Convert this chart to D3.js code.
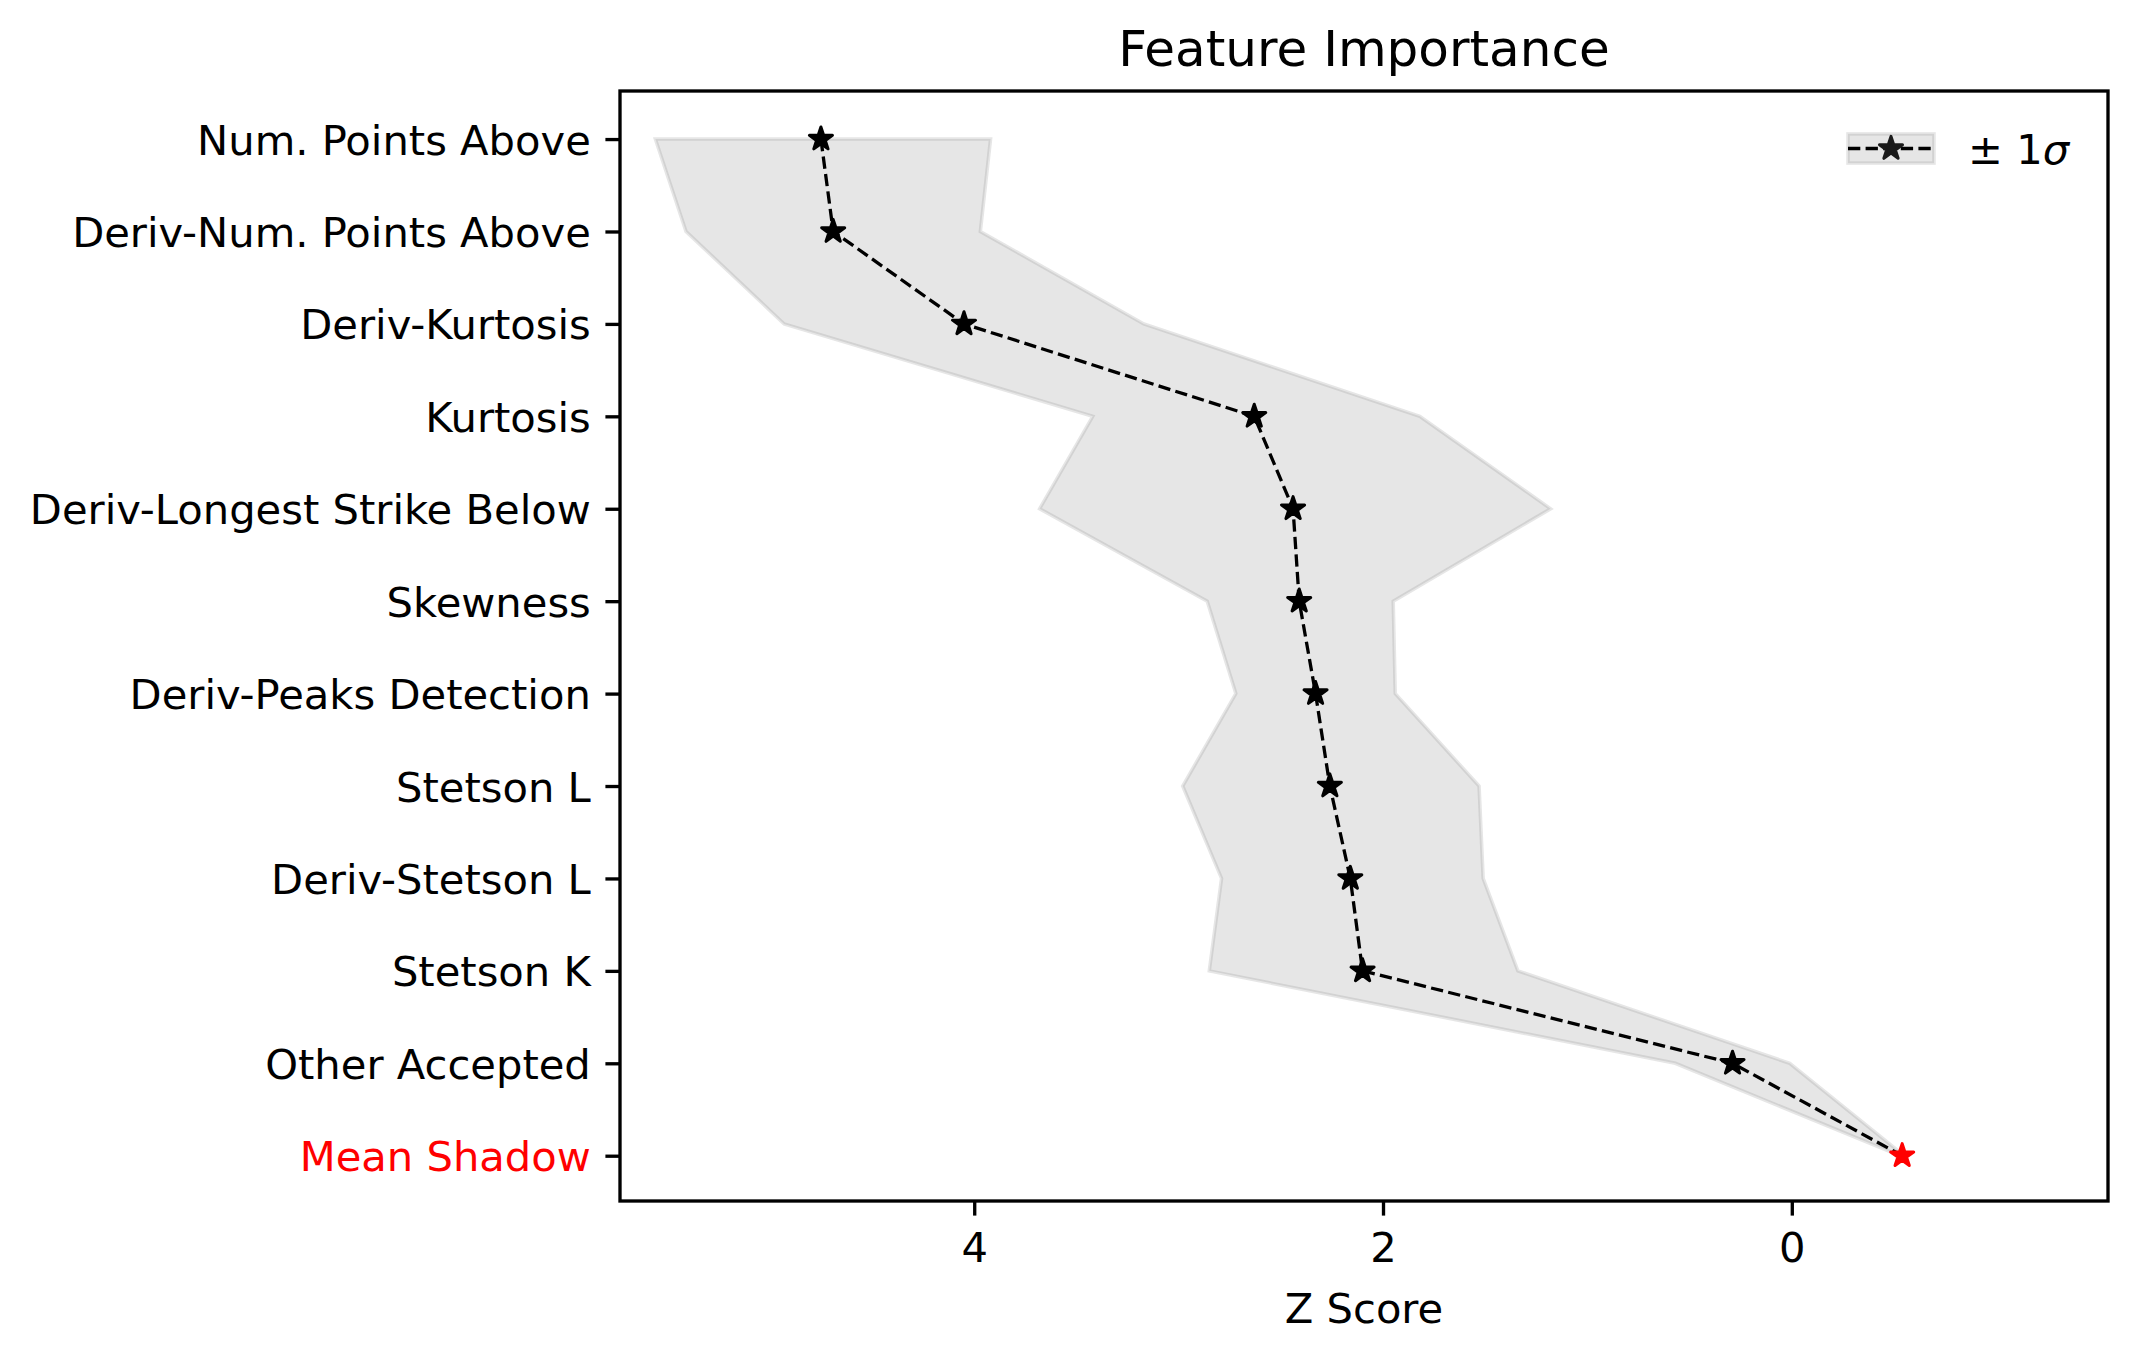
<!DOCTYPE html>
<html><head><meta charset="utf-8">
<script src="https://cdn.jsdelivr.net/npm/d3@7"></script>
<style>body{margin:0;background:#fff}svg{display:block}text{font-family:"DejaVu Sans",sans-serif}</style>
</head><body>
<script>
const features = ["Num. Points Above","Deriv-Num. Points Above","Deriv-Kurtosis","Kurtosis","Deriv-Longest Strike Below","Skewness","Deriv-Peaks Detection","Stetson L","Deriv-Stetson L","Stetson K","Other Accepted","Mean Shadow"];
const meanZ  = [4.75, 4.69, 4.05, 2.63, 2.44, 2.41, 2.33, 2.26, 2.16, 2.10, 0.29, -0.54];
const upperZ = [5.56, 5.41, 4.93, 3.42, 3.68, 2.86, 2.72, 2.98, 2.79, 2.85, 0.57, -0.53];
const lowerZ = [3.92, 3.97, 3.17, 1.82, 1.18, 1.95, 1.94, 1.53, 1.51, 1.34, 0.01, -0.55];
const xTicks = [4, 2, 0];
const xDomain = [5.733, -1.547];

const W = 2137, H = 1361;
const L = 620, R = 2108, T = 91, B = 1201;
const svg = d3.select("body").append("svg").attr("width", W).attr("height", H);

const x = d3.scaleLinear().domain(xDomain).range([L, R]);
const y = d3.scaleLinear().domain([-0.52, features.length - 1 + 0.49]).range([T, B]);
const idx = d3.range(features.length);

const fillC = "rgba(128,128,128,0.2)";
// band
const area = d3.area().y(i => y(i)).x0(i => x(upperZ[i])).x1(i => x(lowerZ[i]));
svg.append("path").attr("d", area(idx)).attr("fill", fillC).attr("stroke", fillC).attr("stroke-width", 3.5);

// dashed line
const line = d3.line().x(i => x(meanZ[i])).y(i => y(i));
svg.append("path").attr("d", line(idx)).attr("fill", "none").attr("stroke", "#000")
  .attr("stroke-width", 3.3).attr("stroke-dasharray", "12.3,5.3");

const star = d3.symbol(d3.symbolStar, 165);
svg.selectAll(".pt").data(idx).join("path")
  .attr("d", star).attr("transform", i => `translate(${x(meanZ[i])},${y(i)})`)
  .attr("fill", i => i === features.length - 1 ? "#ff0000" : "#000")
  .attr("stroke", i => i === features.length - 1 ? "#ff0000" : "#000")
  .attr("stroke-width", 3).attr("stroke-linejoin", "round");

// axes
const fs = 41.67;
const xAxis = d3.axisBottom(x).tickValues(xTicks).tickFormat(d3.format("d")).tickSize(14.6).tickPadding(14.6);
const gx = svg.append("g").attr("transform", `translate(0,${B})`).call(xAxis);
const yAxis = d3.axisLeft(y).tickValues(idx).tickFormat(i => features[i]).tickSize(14.6).tickPadding(14.6);
const gy = svg.append("g").attr("transform", `translate(${L},0)`).call(yAxis);
[gx, gy].forEach(g => {
  g.select(".domain").remove();
  g.selectAll(".tick line").attr("stroke", "#000").attr("stroke-width", 3.33);
  g.selectAll(".tick text").attr("font-size", fs).attr("fill", "#000").attr("font-family", "DejaVu Sans");
});
gx.selectAll(".tick text").attr("dy", null).attr("y", 14.6 + 14.6 + 32);
gy.selectAll(".tick text").attr("dy", "0.36em").attr("fill", i => i === features.length - 1 ? "#ff0000" : "#000");

svg.append("rect").attr("x", L).attr("y", T).attr("width", R - L).attr("height", B - T)
  .attr("fill", "none").attr("stroke", "#000").attr("stroke-width", 3.33);

// title & label
svg.append("text").attr("x", (L + R) / 2).attr("y", 66).attr("text-anchor", "middle")
  .attr("font-size", 50).text("Feature Importance");
svg.append("text").attr("x", (L + R) / 2).attr("y", 1323).attr("text-anchor", "middle")
  .attr("font-size", fs).text("Z Score");

// legend
const lg = svg.append("g");
const hx0 = 1848, hx1 = 1934, hy = 148.5;
lg.append("rect").attr("x", hx0).attr("y", hy - 14.6).attr("width", hx1 - hx0).attr("height", 29.2)
  .attr("fill", fillC).attr("stroke", fillC).attr("stroke-width", 3.5);
lg.append("line").attr("x1", hx0).attr("x2", hx1).attr("y1", hy).attr("y2", hy)
  .attr("stroke", "#000").attr("stroke-width", 3.3).attr("stroke-dasharray", "12.3,5.3");
lg.append("path").attr("d", star).attr("transform", `translate(${(hx0 + hx1) / 2},${hy})`)
  .attr("fill", "#1a1a1a").attr("stroke", "#1a1a1a").attr("stroke-width", 3).attr("stroke-linejoin", "round");
const lt = lg.append("text").attr("x", 1968).attr("y", hy + 15).attr("font-size", fs);
lt.append("tspan").text("± 1");
lt.append("tspan").attr("font-style", "italic").text("σ");
</script>
</body></html>
